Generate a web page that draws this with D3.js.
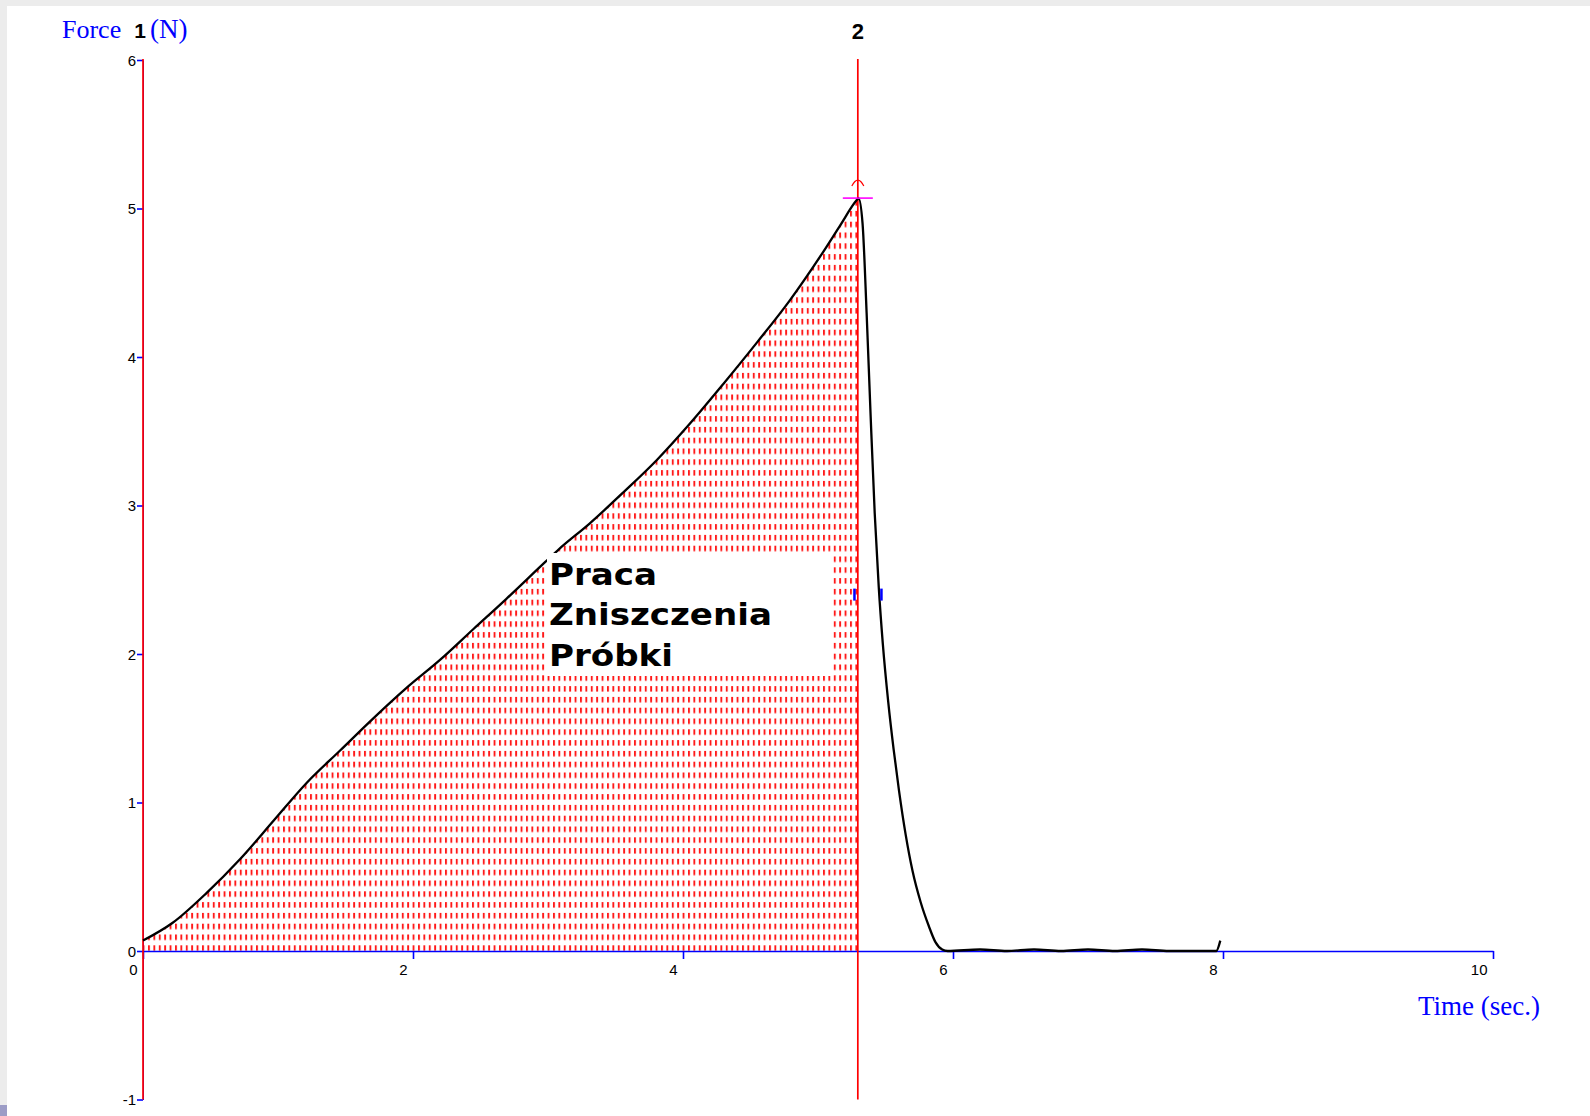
<!DOCTYPE html>
<html>
<head>
<meta charset="utf-8">
<script src="https://cdn.jsdelivr.net/npm/d3@7"></script>
<style>
  html, body { margin: 0; padding: 0; background: #ffffff; }
  svg { display: block; }
</style>
</head>
<body>
<div id="chart"></div>
<script>
// ---- data ----
const time = [0.00, 0.22, 0.47, 0.72, 0.97, 1.21, 1.46, 1.71, 1.95, 2.20, 2.45, 2.69, 2.98, 3.08, 3.31, 3.56, 3.81, 4.05, 4.30, 4.55, 4.79, 5.04, 5.16, 5.29, 5.30,
              5.33, 5.36, 5.39, 5.42, 5.45, 5.48, 5.52, 5.56, 5.60, 5.65, 5.70, 5.76, 5.82, 5.87, 5.92, 5.96,
              6.20, 6.40, 6.60, 6.80, 7.00, 7.20, 7.40, 7.60, 7.80, 7.95, 7.98];
const force = [0.07, 0.19, 0.39, 0.62, 0.88, 1.13, 1.35, 1.57, 1.77, 1.96, 2.17, 2.37, 2.62, 2.705, 2.88, 3.09, 3.31, 3.55, 3.82, 4.10, 4.38, 4.71, 4.88, 5.06, 5.07,
               4.90, 4.30, 3.60, 2.95, 2.45, 2.07, 1.68, 1.36, 1.08, 0.78, 0.54, 0.33, 0.17, 0.06, 0.01, 0.00,
               0.01, 0.00, 0.01, 0.00, 0.01, 0.00, 0.01, 0.00, 0.00, 0.00, 0.07];
const xTicks = [0, 2, 4, 6, 8, 10];
const yTicks = [-1, 0, 1, 2, 3, 4, 5, 6];
const cursors = [0, 5.295];            // cursor 1 and cursor 2 (time)
const cursorLabel = "2";
const peak = {t: 5.295, f: 5.07};
const blueMarks = [{t: 5.27, f: 2.40}, {t: 5.47, f: 2.40}];
const areaText = ["Praca", "Zniszczenia", "Próbki"];
const yTitle = ["Force", "1", "(N)"];
const xTitle = "Time (sec.)";

// ---- layout ----
const W = 1590, H = 1116;
const svg = d3.select("#chart").append("svg").attr("width", W).attr("height", H);
svg.append("rect").attr("width", W).attr("height", H).attr("fill", "#ffffff");
// light grey frame strips of the screenshot
svg.append("rect").attr("x", 0).attr("y", 0).attr("width", W).attr("height", 6).attr("fill", "#ececec");
svg.append("rect").attr("x", 0).attr("y", 0).attr("width", 7).attr("height", H).attr("fill", "#ececec");
svg.append("rect").attr("x", 0).attr("y", 1105).attr("width", 7).attr("height", 11).attr("fill", "#9c9cc6");

const x = d3.scaleLinear().domain([0, 10]).range([143, 1493]);
const y = d3.scaleLinear().domain([-1, 6]).range([1099.5, 60]);

// pattern for the filled area
const defs = svg.append("defs");
const pat = defs.append("pattern").attr("id", "dots").attr("patternUnits", "userSpaceOnUse")
  .attr("x", 148).attr("y", 945.3).attr("width", 5.4).attr("height", 10.8);
pat.append("rect").attr("x", 0).attr("y", 0).attr("width", 1.9).attr("height", 5.5).attr("fill", "#ff1a1a");
defs.append("clipPath").attr("id", "clipArea").append("rect")
  .attr("x", x(cursors[0])).attr("y", 0).attr("width", x(cursors[1]) - x(cursors[0])).attr("height", y(0));

const pts = time.map((t, i) => ({t, f: force[i]}));

svg.append("path").datum(pts)
  .attr("clip-path", "url(#clipArea)")
  .attr("fill", "url(#dots)")
  .attr("d", d3.area().x(d => x(d.t)).y0(y(0)).y1(d => y(d.f)).curve(d3.curveMonotoneX));

const fmt = d => String(d);

// x axis
const xAxis = svg.append("g").attr("transform", `translate(0,${y(0)})`)
  .call(d3.axisBottom(x).tickValues(xTicks).tickSize(8).tickSizeOuter(0).tickFormat(fmt));
xAxis.select(".domain").attr("stroke", "#0000ff").attr("stroke-width", 1.6);
xAxis.selectAll(".tick line").attr("stroke", "#0000ff").attr("stroke-width", 1.6);
xAxis.selectAll(".tick text").attr("fill", "#000").attr("font-family", "Liberation Sans, Arial, sans-serif")
  .attr("font-size", 15).attr("text-anchor", "end").attr("x", -6).attr("y", 24).attr("dy", 0);

// y axis
const yAxis = svg.append("g").attr("transform", `translate(${x(0)},0)`)
  .call(d3.axisLeft(y).tickValues(yTicks).tickSize(6).tickSizeOuter(0).tickPadding(1).tickFormat(fmt));
yAxis.select(".domain").attr("stroke", "#0000ff");
yAxis.selectAll(".tick line").attr("stroke", "#0000ff").attr("stroke-width", 1.6);
yAxis.selectAll(".tick text").attr("fill", "#000").attr("font-family", "Liberation Sans, Arial, sans-serif")
  .attr("font-size", 15).attr("dy", "0.36em");

// cursor lines
svg.selectAll("line.cursor").data(cursors).enter().append("line").attr("class", "cursor")
  .attr("x1", d => x(d)).attr("x2", d => x(d)).attr("y1", y(6) - 1).attr("y2", y(-1))
  .attr("stroke", "#ff0000").attr("stroke-width", 1.7);

// curve
svg.append("path").datum(pts)
  .attr("fill", "none").attr("stroke", "#000").attr("stroke-width", 2.3).attr("stroke-linejoin", "round")
  .attr("d", d3.line().x(d => x(d.t)).y(d => y(d.f)).curve(d3.curveMonotoneX));

// peak marker
svg.append("line").attr("x1", x(peak.t) - 15).attr("x2", x(peak.t) + 15)
  .attr("y1", y(peak.f)).attr("y2", y(peak.f))
  .attr("stroke", "#ff00ff").attr("stroke-width", 1.6);
svg.append("path")
  .attr("d", `M${x(peak.t) - 6},${y(peak.f) - 12} Q${x(peak.t)},${y(peak.f) - 24} ${x(peak.t) + 6},${y(peak.f) - 12}`)
  .attr("fill", "none").attr("stroke", "#ff0000").attr("stroke-width", 1.2);

// small blue marks
svg.selectAll("line.bm").data(blueMarks).enter().append("line").attr("class", "bm")
  .attr("x1", d => x(d.t)).attr("x2", d => x(d.t))
  .attr("y1", d => y(d.f) - 6).attr("y2", d => y(d.f) + 6)
  .attr("stroke", "#0000ff").attr("stroke-width", 2.5);

// annotation box
svg.append("rect").attr("x", 547).attr("y", 553).attr("width", 284).attr("height", 123).attr("fill", "#ffffff");
const tg = svg.append("g").attr("transform", "translate(549,0) scale(1.1,1)");
tg.selectAll("text").data(areaText).enter().append("text")
  .attr("x", 0).attr("y", (d, i) => 585 + i * 40.5)
  .attr("font-family", "DejaVu Sans, Verdana, sans-serif").attr("font-weight", "bold")
  .attr("font-size", 31).attr("fill", "#000").text(d => d);

// cursor label
svg.append("text").attr("x", x(cursors[1])).attr("y", 39).attr("text-anchor", "middle")
  .attr("font-family", "Liberation Sans, Arial, sans-serif").attr("font-weight", "bold")
  .attr("font-size", 22).attr("fill", "#000").text(cursorLabel);

// axis titles
const yt = svg.append("text").attr("x", 62).attr("y", 38)
  .attr("font-family", "Liberation Serif, Times New Roman, serif").attr("font-size", 26).attr("fill", "#0000ff");
yt.append("tspan").text(yTitle[0]);
yt.append("tspan").attr("dx", 13).attr("font-family", "Liberation Sans, Arial, sans-serif").attr("font-weight", "bold")
  .attr("font-size", 21).attr("fill", "#000").text(yTitle[1]);
yt.append("tspan").attr("dx", 4).attr("font-size", 27).text(yTitle[2]);

svg.append("text").attr("x", 1418).attr("y", 1015)
  .attr("font-family", "Liberation Serif, Times New Roman, serif").attr("font-size", 27).attr("fill", "#0000ff")
  .text(xTitle);
</script>
</body>
</html>
